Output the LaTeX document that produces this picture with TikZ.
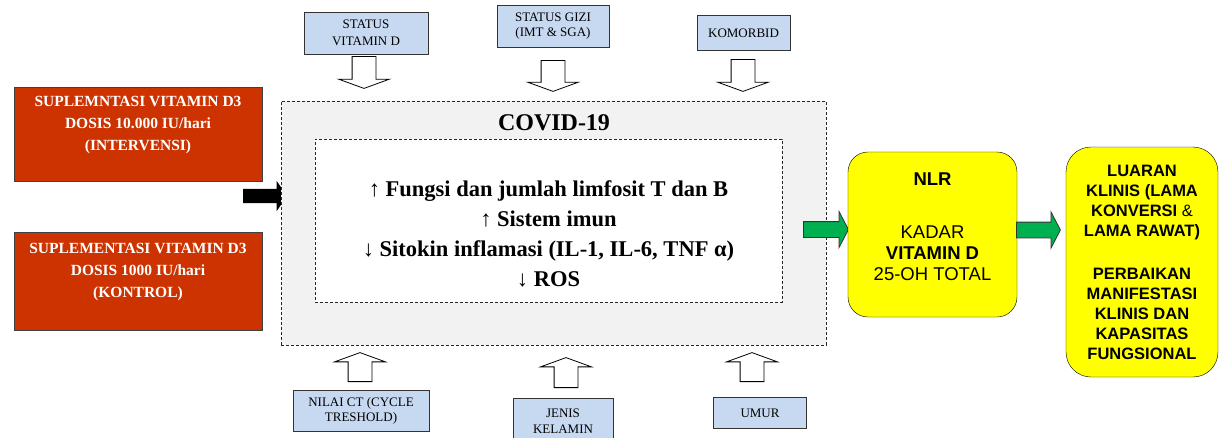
\documentclass[tikz,border=0pt]{standalone}
\usepackage{fontspec}
\setmainfont{Liberation Serif}
\setsansfont{Liberation Sans}
\usetikzlibrary{shapes.arrows, calc}
\definecolor{suplred}{HTML}{CC3300}
\definecolor{factorblue}{HTML}{C6D9F1}
\definecolor{flowgreen}{HTML}{00B050}
\definecolor{covidgray}{HTML}{F2F2F2}
\definecolor{resultyellow}{HTML}{FFFF00}
\tikzset{every node/.append style = {inner sep = 0pt}}
\tikzset{suplbox/.style = {draw = black!75, fill = suplred, text = white, align = center,
    minimum width = 248, font = \bfseries\fontsize{15.5}{22}\selectfont}}
\tikzset{factorbox/.style = {draw = black!80, fill = factorblue, align = center,
    font = \fontsize{13}{15}\selectfont}}
\tikzset{dashbox/.style = {draw = black!85, line width = 0.9pt, dash pattern = on 3pt off 2pt}}
\tikzset{hollowarrow/.style = {single arrow, draw = black, fill = white, line width = 0.8pt,
    inner xsep = 0pt, inner ysep = 11.5pt, single arrow head extend = 13.5pt,
    single arrow tip angle = 140, anchor = tail}}
\tikzset{greenarrow/.style = {single arrow, draw = black!80, fill = flowgreen, line width = 0.8pt,
    inner xsep = 0pt, inner ysep = 7.5pt, single arrow head extend = 10pt,
    single arrow tip angle = 125, anchor = tail}}
\tikzset{resultbox/.style = {draw = black, fill = resultyellow, rounded corners = 20pt,
    align = center, font = \sffamily\fontsize{18.5}{21}\selectfont}}

\begin{document}
\begin{tikzpicture}[x = 1pt, y = -1pt]
\useasboundingbox (0,0) rectangle (1225,437);
% kelompok suplementasi
\node [suplbox, minimum height = 94] (interv) at (138,134)
  {SUPLEMNTASI VITAMIN D3\\DOSIS 10.000 IU/hari\\(INTERVENSI)\\\mbox{}};
\node [suplbox, minimum height = 98] (kontrol) at (138,281)
  {SUPLEMENTASI VITAMIN D3\\DOSIS 1000 IU/hari\\(KONTROL)\\\mbox{}};
\node [single arrow, fill = black, inner xsep = 0pt, inner ysep = 7pt,
  single arrow head extend = 8pt, single arrow tip angle = 110,
  minimum height = 44, anchor = tail] (arrin) at (243,196) {};
% covid-19
\node [dashbox, fill = covidgray, minimum width = 545, minimum height = 244] (covid) at (553.5,223) {};
\node [font = \bfseries\fontsize{24}{26}\selectfont] (covidtitle) at (554,123) {COVID-19};
\node [dashbox, fill = white, minimum width = 467, minimum height = 163, align = center,
  font = \bfseries\fontsize{22.5}{30}\selectfont] (mech) at (548.5,220.5)
  {\mbox{}\\[12pt]↑ Fungsi dan jumlah limfosit T dan B\\↑ Sistem imun\\
   ↓ Sitokin inflamasi (IL-1, IL-6, TNF α)\\↓ ROS};
% faktor atas
\node [factorbox, minimum width = 124, minimum height = 42] (statvitd) at (366,33)
  {STATUS\\[2pt]VITAMIN D};
\node [factorbox, minimum width = 112, minimum height = 42] (statgizi) at (553,26)
  {STATUS GIZI\\(IMT \& SGA)};
\node [factorbox, minimum width = 93, minimum height = 35] (komorbid) at (743.5,33) {KOMORBID};
\node [hollowarrow, rotate = -90, minimum height = 32] (dvitd) at (364,56) {};
\node [hollowarrow, rotate = -90, minimum height = 31] (dgizi) at (553,60) {};
\node [hollowarrow, rotate = -90, minimum height = 32] (dkomor) at (743,59) {};
% faktor bawah
\node [factorbox, minimum width = 136, minimum height = 41] (nilaict) at (361,411)
  {NILAI CT (CYCLE\\TRESHOLD)};
\node [factorbox, minimum width = 100, minimum height = 46] (jenkel) at (563,421)
  {JENIS\\[1pt]KELAMIN};
\node [factorbox, minimum width = 93, minimum height = 31] (umur) at (760,413) {UMUR};
\node [hollowarrow, rotate = 90, minimum height = 29] (uct) at (360,382) {};
\node [hollowarrow, rotate = 90, minimum height = 30] (ujk) at (566,388) {};
\node [hollowarrow, rotate = 90, minimum height = 29] (uumur) at (752,382) {};
% luaran
\node [greenarrow, minimum height = 45] (gnlr) at (803,229.5) {};
\node [resultbox, minimum width = 169, minimum height = 165] (nlr) at (932.5,234.5)
  {\textbf{NLR}\\[32pt]KADAR\\\textbf{VITAMIN D}\\25-OH TOTAL\\[-5pt]\mbox{}};
\node [greenarrow, minimum height = 44] (gluaran) at (1016,230) {};
\node [resultbox, rounded corners = 25pt, minimum width = 152, minimum height = 230,
  font = \sffamily\bfseries\fontsize{16.5}{20}\selectfont] (luaran) at (1142,262)
  {LUARAN\\KLINIS (LAMA\\KONVERSI \textmd{\&}\\LAMA RAWAT)\\[23pt]
   PERBAIKAN\\MANIFESTASI\\KLINIS DAN\\KAPASITAS\\FUNGSIONAL};
\end{tikzpicture}
\end{document}
